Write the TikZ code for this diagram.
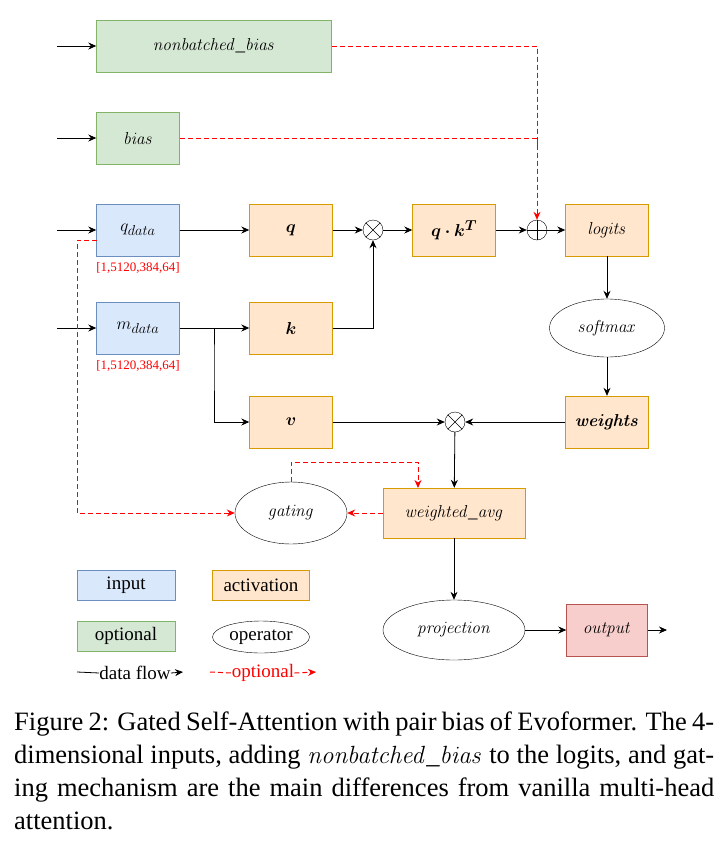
\documentclass[tikz,border=0pt]{standalone}
\usepackage{amsmath,bm}
\usepackage[no-math]{fontspec}
\setmainfont{Liberation Serif}
\usetikzlibrary{shapes.geometric,arrows.meta}
\definecolor{bfill}{HTML}{DAE8FC}\definecolor{bdraw}{HTML}{6C8EBF}
\definecolor{ofill}{HTML}{FFE6CC}\definecolor{odraw}{HTML}{D79B00}
\definecolor{gfill}{HTML}{D5E8D4}\definecolor{gdraw}{HTML}{82B366}
\definecolor{rfill}{HTML}{F8CECC}\definecolor{rdraw}{HTML}{B85450}
\begin{document}
\begin{tikzpicture}[x=1pt,y=-1pt,
 every node/.style={font=\fontsize{19}{22}\selectfont},
 box/.style={draw,minimum width=83pt,minimum height=52pt,inner sep=0pt},
 inp/.style={box,fill=bfill,draw=bdraw},
 act/.style={box,fill=ofill,draw=odraw},
 opt/.style={box,fill=gfill,draw=gdraw},
 outb/.style={box,fill=rfill,draw=rdraw},
 op/.style={draw,ellipse,inner sep=0pt},
 circ/.style={draw,circle,minimum size=20pt,inner sep=0pt},
 flow/.style={draw,-{Stealth[length=8pt,width=7pt]},line width=0.8pt},
 dflow/.style={draw=red,dash pattern=on 5pt off 3pt,line width=1pt,-{Stealth[length=8pt,width=7pt]}},
 dline/.style={draw=red,dash pattern=on 5pt off 3pt,line width=1pt},
 shp/.style={text=red,font=\fontsize{13}{15}\selectfont}]
\useasboundingbox (0,0) rectangle (725,852);
\node[opt,minimum width=235pt] (nb) at (214,46) {$\mathit{nonbatched\_bias}$};
\node[opt] (bias) at (138,138) {$\mathit{bias}$};
\node[inp] (qd) at (138,230) {$q_{data}$};
\node[inp] (md) at (138,328) {$m_{data}$};
\node[shp] (qs) at (138,268) {[1,5120,384,64]};
\node[shp] (ms) at (138,366) {[1,5120,384,64]};
\node[act] (q) at (291,230) {$\bm{q}$};
\node[act] (k) at (291,328) {$\bm{k}$};
\node[act] (v) at (291,422) {$\bm{v}$};
\node[circ] (m1) at (373,230) {};
\draw (m1.north west)--(m1.south east) (m1.north east)--(m1.south west);
\node[act] (qk) at (454,230) {$\bm{q\cdot k^T}$};
\node[circ] (p1) at (537,230) {};
\draw (p1.north)--(p1.south) (p1.east)--(p1.west);
\node[act] (lg) at (607,230) {$\mathit{logits}$};
\node[op,minimum width=115pt,minimum height=58pt] (sm) at (607,328) {$\mathit{softmax}$};
\node[act] (w) at (607,422) {$\bm{\mathit{weights}}$};
\node[circ] (m2) at (455,422) {};
\draw (m2.north west)--(m2.south east) (m2.north east)--(m2.south west);
\node[act,minimum width=142pt,minimum height=50pt] (wa) at (454,513) {$\mathit{weighted\_avg}$};
\node[op,minimum width=112pt,minimum height=62pt] (g) at (291,513) {$\mathit{gating}$};
\node[op,minimum width=142pt,minimum height=60pt] (pr) at (454,630) {$\mathit{projection}$};
\node[outb,minimum width=81pt] (out) at (607,630) {$\mathit{output}$};
\coordinate (i1) at (57,46); \coordinate (i2) at (57,138);
\coordinate (i3) at (57,230); \coordinate (i4) at (57,328);
\coordinate (o1) at (667,630);
\path[flow] (i1)--(nb); \path[flow] (i2)--(bias);
\path[flow] (i3)--(qd); \path[flow] (i4)--(md);
\path[flow] (qd)--(q); \path[flow] (q)--(m1);
\path[flow] (md)--(k); \path[flow] (k.east)-|(m1);
\path[flow] (m1)--(qk); \path[flow] (qk)--(p1); \path[flow] (p1)--(lg);
\path[flow] (lg)--(sm); \path[flow] (sm)--(w); \path[flow] (w)--(m2);
\path[flow] (v)--(m2); \path[flow] (m2)--(wa);
\path[flow] (md.east)-|(214,360)|-(v.west);
\path[flow] (wa)--(pr); \path[flow] (pr)--(out); \path[flow] (out)--(o1);
\path[dflow] (nb.east)-|(p1.north);
\path[dline] (bias.east)-|(537,150);
\path[dflow] (97,240)-|(77,513)--(g.west);
\path[dflow] (wa.west)--(g.east);
\path[dflow] (g.north)|-(418,462)--(418,488);
% legend
\node[inp,minimum width=98pt,minimum height=30pt] (l1) at (126,585) {input};
\node[act,minimum width=97pt,minimum height=30pt] (l2) at (261,585) {activation};
\node[opt,minimum width=98pt,minimum height=30pt] (l3) at (126,636) {optional};
\node[op,minimum width=97pt,minimum height=32pt] (l4) at (261,637) {operator};
\node[inner sep=0pt] (df) at (135,673) {data flow};
\coordinate (a0) at (77,672); \coordinate (a1) at (183,672);
\draw[line width=0.8pt] (a0)--(df.west);
\path[flow] (df.east)--(a1);
\node[inner sep=0pt,text=red] (od) at (263,673) {optional};
\coordinate (b0) at (210,672); \coordinate (b1) at (316,672);
\path[dline] (b0)--(od.west);
\path[dflow] (od.east)--(b1);
\node[anchor=north west,inner sep=0pt,text width=700pt,align=justify,font=\fontsize{26.5}{33}\selectfont] (cap) at (14,712)
{Figure 2: Gated Self-Attention with pair bias of Evoformer. The 4-dimensional inputs, adding $\mathit{nonbatched\_bias}$ to the logits, and gating mechanism are the main differences from vanilla multi-head attention.};
\end{tikzpicture}
\end{document}
